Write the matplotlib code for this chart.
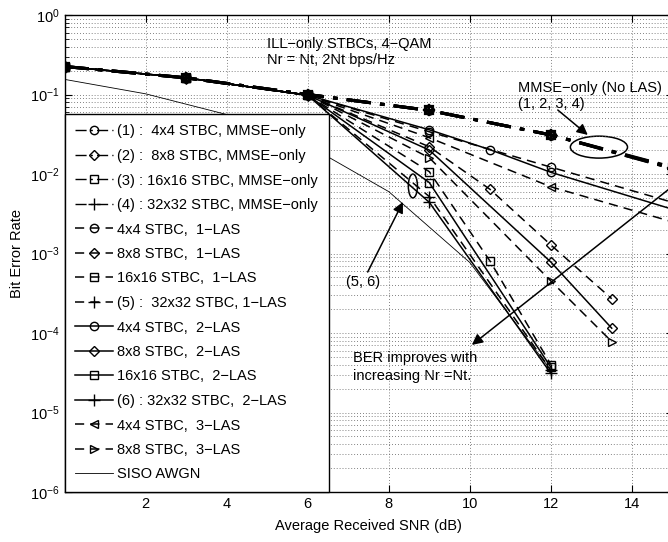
import matplotlib
matplotlib.use("Agg")
import matplotlib.pyplot as plt
from matplotlib.patches import Ellipse
from matplotlib.ticker import LogLocator, FixedLocator, NullFormatter

plt.rcParams['font.family'] = ['Liberation Sans', 'DejaVu Sans']
plt.rcParams['mathtext.fontset'] = 'custom'
plt.rcParams['mathtext.rm'] = 'Liberation Sans'
plt.rcParams['mathtext.it'] = 'Liberation Sans:italic'
plt.rcParams['mathtext.bf'] = 'Liberation Sans:bold'

# ---------------- data ----------------
snr_mmse = [0, 3, 6, 9, 12, 15]
ber_mmse_4 = [0.225, 0.162, 0.100, 0.063, 0.031, 0.0122]
ber_mmse_8 = [0.225, 0.162, 0.100, 0.063, 0.031, 0.0120]
ber_mmse_16 = [0.225, 0.162, 0.100, 0.063, 0.031, 0.0118]
ber_mmse_32 = [0.225, 0.162, 0.100, 0.063, 0.031, 0.0117]

snr_4_las1 = [0, 3, 6, 9, 12, 15]
ber_4_las1 = [0.225, 0.162, 0.098, 0.034, 0.0122, 0.0044]
snr_8_las1 = [0, 3, 6, 9, 10.5, 12, 13.5]
ber_8_las1 = [0.225, 0.162, 0.098, 0.022, 0.0064, 0.00128, 0.00027]
snr_16_las1 = [0, 3, 6, 9, 10.5, 12]
ber_16_las1 = [0.225, 0.162, 0.098, 0.0107, 0.0008, 0.00004]
snr_32_las1 = [0, 3, 6, 9, 12]
ber_32_las1 = [0.225, 0.162, 0.098, 0.0052, 0.000034]

snr_4_las2 = [0, 3, 6, 9, 10.5, 12, 15]
ber_4_las2 = [0.225, 0.162, 0.098, 0.036, 0.0202, 0.0105, 0.0036]
snr_8_las2 = [0, 3, 6, 9, 12, 13.5]
ber_8_las2 = [0.225, 0.162, 0.098, 0.020, 0.00078, 0.000115]
snr_16_las2 = [0, 3, 6, 9, 12]
ber_16_las2 = [0.225, 0.162, 0.098, 0.0078, 0.000037]
snr_32_las2 = [0, 3, 6, 9, 12]
ber_32_las2 = [0.225, 0.162, 0.098, 0.0044, 0.000031]

snr_4_las3 = [0, 3, 6, 9, 12, 15]
ber_4_las3 = [0.225, 0.162, 0.098, 0.0286, 0.0069, 0.0025]
snr_8_las3 = [0, 3, 6, 9, 12, 13.5]
ber_8_las3 = [0.225, 0.162, 0.098, 0.016, 0.00045, 0.000078]

snr_siso = [0, 2, 4, 6, 8, 10, 12]
ber_siso = [0.155, 0.102, 0.056, 0.023, 0.006, 0.00077, 0.000034]

labels = [
    "(1) :  4x4 STBC, MMSE\u2212only",
    "(2) :  8x8 STBC, MMSE\u2212only",
    "(3) : 16x16 STBC, MMSE\u2212only",
    "(4) : 32x32 STBC, MMSE\u2212only",
    "4x4 STBC,  1\u2212LAS",
    "8x8 STBC,  1\u2212LAS",
    "16x16 STBC,  1\u2212LAS",
    "(5) :  32x32 STBC, 1\u2212LAS",
    "4x4 STBC,  2\u2212LAS",
    "8x8 STBC,  2\u2212LAS",
    "16x16 STBC,  2\u2212LAS",
    "(6) : 32x32 STBC,  2\u2212LAS",
    "4x4 STBC,  3\u2212LAS",
    "8x8 STBC,  3\u2212LAS",
    "SISO AWGN",
]

xticks = [2, 4, 6, 8, 10, 12, 14]

# ---------------- figure ----------------
W, H = 668, 542
fig = plt.figure(figsize=(W / 100, H / 100), dpi=100)
ax = fig.add_axes([64.5 / W, 1 - 492 / H, 608 / W, 477 / H])
ax.set_yscale('log')

dash = (0, (6, 4))
dashdot = (0, (8, 3, 1.5, 3))

series = [
    (snr_mmse, ber_mmse_4, 'o', dashdot, 2.2),
    (snr_mmse, ber_mmse_8, 'D', dashdot, 2.2),
    (snr_mmse, ber_mmse_16, 's', dashdot, 2.2),
    (snr_mmse, ber_mmse_32, '+', dashdot, 2.2),
    (snr_4_las1, ber_4_las1, 'o', dash, 1.1),
    (snr_8_las1, ber_8_las1, 'D', dash, 1.1),
    (snr_16_las1, ber_16_las1, 's', dash, 1.1),
    (snr_32_las1, ber_32_las1, '+', dash, 1.1),
    (snr_4_las2, ber_4_las2, 'o', '-', 1.1),
    (snr_8_las2, ber_8_las2, 'D', '-', 1.1),
    (snr_16_las2, ber_16_las2, 's', '-', 1.1),
    (snr_32_las2, ber_32_las2, '+', '-', 1.1),
    (snr_4_las3, ber_4_las3, '<', dash, 1.1),
    (snr_8_las3, ber_8_las3, '>', dash, 1.1),
]
handles = []
for i, ((x, y, m, ls, lw), lab) in enumerate(zip(series, labels[:-1])):
    ms = 5 if m == 'D' else (8 if m == '+' else 6)
    mew = 1.6 if i < 4 else 1.0
    h, = ax.plot(x, y, color='black', linestyle=ls, linewidth=lw, marker=m,
                 markersize=ms, markerfacecolor='none', markeredgecolor='black',
                 markeredgewidth=mew, label=lab)
    handles.append(h)
h, = ax.plot(snr_siso, ber_siso, color='black', linewidth=0.6, label=labels[-1])
handles.append(h)

ax.set_xlim(0, 15)
ax.set_ylim(1e-6, 1)
ax.xaxis.set_major_locator(FixedLocator(xticks))
ax.set_xticklabels([str(t) for t in xticks])
ax.yaxis.set_major_locator(LogLocator(base=10, numticks=10))
ax.yaxis.set_minor_locator(LogLocator(base=10, subs=[2, 3, 4, 5, 6, 7, 8, 9], numticks=20))
ax.yaxis.set_minor_formatter(NullFormatter())
ax.tick_params(which='both', direction='in', top=True, right=True, labelsize=10.5)
ax.tick_params(which='major', length=5, width=0.8)
ax.tick_params(which='minor', length=3, width=0.6)
ax.grid(True, which='major', axis='both', color='0.35', linestyle=(0, (1, 2.5)), linewidth=0.6)
ax.grid(True, which='minor', axis='y', color='0.35', linestyle=(0, (1, 2.5)), linewidth=0.6)
for s in ax.spines.values():
    s.set_linewidth(1.0)

ax.set_xlabel("Average Received SNR (dB)", fontsize=10.5, labelpad=6)
ax.set_ylabel("Bit Error Rate", fontsize=10.5, labelpad=4)

leg = ax.legend(handles=handles, loc='lower left', bbox_to_anchor=(0, 0), borderaxespad=0,
                fontsize=10.5, frameon=True, fancybox=False, edgecolor='black',
                handlelength=2.6, handletextpad=0.3, labelspacing=0.72,
                borderpad=0.72, framealpha=1)
leg.get_frame().set_linewidth(1.0)
for ln in leg.get_lines()[:4]:
    ln.set_linewidth(1.0)
    ln.set_markeredgewidth(1.0)

# ---------------- annotations ----------------
ax.text(5.0, 0.43, "ILL\u2212only STBCs, 4\u2212QAM", fontsize=10.5, va='center', ha='left')
ax.text(5.0, 0.27, "Nr = Nt, 2Nt bps/Hz", fontsize=10.5, va='center', ha='left')
ax.text(11.19, 0.121, "MMSE\u2212only (No LAS)", fontsize=10.5, va='center', ha='left')
ax.text(11.19, 0.076, "(1, 2, 3, 4)", fontsize=10.5, va='center', ha='left')
ax.text(6.94, 0.00044, "(5, 6)", fontsize=10.5, va='center', ha='left')
ax.text(7.11, 4.85e-5, "BER improves with", fontsize=10.5, va='center', ha='left')
ax.text(7.11, 2.88e-5, "increasing Nr =Nt.", fontsize=10.5, va='center', ha='left')

ap = dict(arrowstyle='-|>', color='black', lw=1.1, mutation_scale=16, shrinkA=0, shrinkB=0)
ax.annotate("", xy=(12.91, 0.031), xytext=(12.17, 0.0638), arrowprops=ap)
ax.annotate("", xy=(8.35, 4.45e-3), xytext=(7.48, 5.85e-4), arrowprops=ap)
ax.annotate("", xy=(10.05, 7.08e-5), xytext=(15.0, 7.0e-3), arrowprops=ap)

ax.add_patch(Ellipse((0.879, 0.723), 0.094, 0.046, transform=ax.transAxes,
                     fill=False, edgecolor='black', lw=1.1))
ax.add_patch(Ellipse((0.573, 0.6415), 0.015, 0.050, transform=ax.transAxes,
                     fill=False, edgecolor='black', lw=1.1))

fig.savefig("out.png", dpi=100)
